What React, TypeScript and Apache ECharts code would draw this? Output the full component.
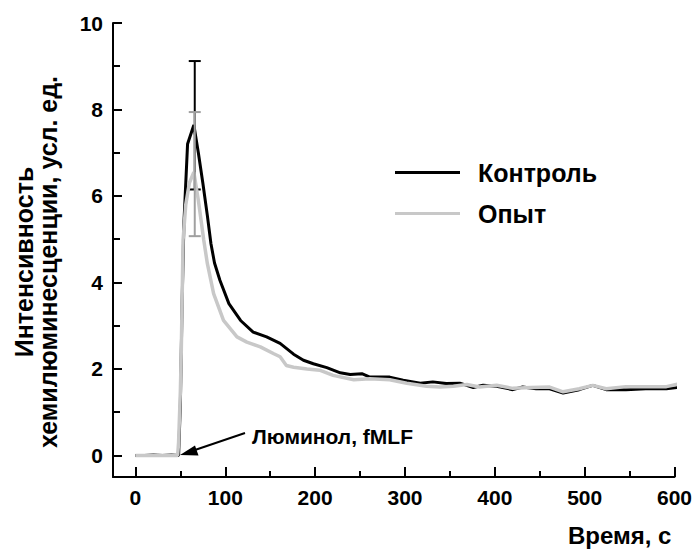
import React, { useEffect, useRef } from "react";
import * as echarts from "echarts";

const FONT = "'Liberation Sans', Arial, sans-serif";

const timeControl = [0, 10, 20, 30, 40, 48, 50, 52, 54, 58, 65, 70, 75, 80, 84, 88, 94, 104, 117, 131, 146, 161, 176, 187, 198, 213, 228, 239, 252, 261, 283, 298, 317, 331, 346, 361, 376, 387, 402, 420, 431, 446, 461, 476, 494, 509, 524, 546, 568, 591, 607];
const control = [0, 0, 0.01, 0, 0.01, 0, 1.2, 3.6, 5.4, 7.2, 7.64, 7.0, 6.3, 5.55, 4.9, 4.45, 4.05, 3.51, 3.12, 2.85, 2.74, 2.59, 2.34, 2.2, 2.12, 2.03, 1.91, 1.87, 1.89, 1.81, 1.81, 1.74, 1.67, 1.7, 1.66, 1.67, 1.57, 1.62, 1.6, 1.52, 1.58, 1.54, 1.54, 1.44, 1.52, 1.62, 1.52, 1.52, 1.54, 1.54, 1.58];

const timeTest = [0, 10, 20, 30, 40, 47, 48, 50, 51, 53, 56, 60, 65, 70, 76, 80, 87, 98, 113, 124, 139, 154, 161, 168, 176, 191, 205, 220, 243, 261, 283, 302, 324, 339, 354, 369, 383, 402, 420, 440, 461, 476, 494, 509, 524, 546, 568, 591, 607];
const test = [0, 0, 0, 0, 0, 0, 0.3, 1.5, 2.4, 4.98, 5.8, 6.3, 6.55, 5.9, 4.98, 4.44, 3.74, 3.12, 2.74, 2.62, 2.51, 2.35, 2.28, 2.08, 2.04, 2.0, 1.97, 1.85, 1.75, 1.77, 1.75, 1.67, 1.6, 1.58, 1.6, 1.64, 1.58, 1.62, 1.55, 1.57, 1.58, 1.47, 1.54, 1.62, 1.54, 1.59, 1.59, 1.59, 1.66];

// error bars: [time, low, high]
const errControl = [66, 6.15, 9.12];
const errTest = [66, 5.07, 7.94];

const xMajorTicks = [0, 100, 200, 300, 400, 500, 600];
const xMinorTicks = [50, 150, 250, 350, 450, 550];
const yMajorTicks = [0, 2, 4, 6, 8, 10];
const yMinorTicks = [1, 3, 5, 7, 9];

const seriesNames = ["Контроль", "Опыт"];
const xName = "Время, с";
const yName = "Интенсивность\nхемилюминесценции, усл. ед.";
const annotation = "Люминол, fMLF";

const BLACK = "#000000";
const GREY = "#c8c8c8";
const GREY_ERR = "#a0a0a0";

function errRender(color: string) {
  return (params: any, api: any) => {
    const x = api.value(0);
    const lo = api.coord([x, api.value(1)]);
    const hi = api.coord([x, api.value(2)]);
    const w = 6;
    const st = { stroke: color, lineWidth: 2 };
    return {
      type: "group",
      children: [
        { type: "line", shape: { x1: lo[0], y1: lo[1], x2: hi[0], y2: hi[1] }, style: st },
        { type: "line", shape: { x1: lo[0] - w, y1: lo[1], x2: lo[0] + w, y2: lo[1] }, style: st },
        { type: "line", shape: { x1: hi[0] - w, y1: hi[1], x2: hi[0] + w, y2: hi[1] }, style: st },
      ],
    };
  };
}

export default function App() {
  const ref = useRef<HTMLDivElement>(null);
  useEffect(() => {
    if (!ref.current) return;
    const chart = echarts.init(ref.current, null, { renderer: "svg" });
    const axisBase = {
      type: "value",
      min: -25,
      max: 600,
    };
    const yBase = { type: "value", min: -0.5, max: 10 };
    chart.setOption({
      animation: false,
      backgroundColor: "#ffffff",
      textStyle: { fontFamily: FONT },
      grid: { left: 113, right: 20, top: 23, bottom: 76, containLabel: false },
      legend: {
        data: seriesNames,
        orient: "vertical",
        left: 390,
        top: 155,
        icon: "rect",
        itemWidth: 65,
        itemHeight: 3,
        itemGap: 16,
        textStyle: { fontFamily: FONT, fontSize: 25, fontWeight: "bold", color: "#000", padding: [0, 0, 0, 13], lineHeight: 25 },
      },
      xAxis: [
        {
          ...axisBase,
          position: "bottom",
          axisLine: { show: true, onZero: false, lineStyle: { color: BLACK, width: 2 } },
          axisTick: { show: true, inside: true, length: 10, lineStyle: { color: BLACK, width: 2 }, customValues: xMajorTicks },
          axisLabel: { show: true, customValues: xMajorTicks, margin: 10, fontFamily: FONT, fontSize: 21, fontWeight: "bold", color: BLACK },
          splitLine: { show: false },
        },
        {
          ...axisBase,
          position: "bottom",
          axisLine: { show: false, onZero: false },
          axisTick: { show: true, inside: true, length: 6, lineStyle: { color: BLACK, width: 2 }, customValues: xMinorTicks },
          axisLabel: { show: false },
          splitLine: { show: false },
        },
      ],
      yAxis: [
        {
          ...yBase,
          position: "left",
          axisLine: { show: true, onZero: false, lineStyle: { color: BLACK, width: 2 } },
          axisTick: { show: true, inside: true, length: 9, lineStyle: { color: BLACK, width: 2 }, customValues: yMajorTicks },
          axisLabel: { show: true, customValues: yMajorTicks, margin: 10, fontFamily: FONT, fontSize: 21, fontWeight: "bold", color: BLACK },
          splitLine: { show: false },
        },
        {
          ...yBase,
          position: "left",
          axisLine: { show: false, onZero: false },
          axisTick: { show: true, inside: true, length: 7, lineStyle: { color: BLACK, width: 2 }, customValues: yMinorTicks },
          axisLabel: { show: false },
          splitLine: { show: false },
        },
      ],
      graphic: [
        {
          type: "text",
          left: 568,
          top: 523,
          style: { text: xName, font: `bold 24px ${FONT}`, fill: BLACK },
        },
        {
          type: "text",
          x: 36,
          y: 262,
          rotation: Math.PI / 2,
          style: { text: yName, font: `bold 25px ${FONT}`, fill: BLACK, align: "center", verticalAlign: "middle", lineHeight: 24 },
        },
        {
          type: "text",
          x: 252,
          y: 436,
          style: { text: annotation, font: `bold 21px ${FONT}`, fill: BLACK, verticalAlign: "middle" },
        },
        {
          type: "line",
          shape: { x1: 245, y1: 433, x2: 192, y2: 451 },
          style: { stroke: BLACK, lineWidth: 2 },
        },
        {
          type: "polygon",
          shape: { points: [[180, 455], [195, 445.5], [198.5, 455.5]] },
          style: { fill: BLACK },
        },
      ],
      series: [
        {
          name: seriesNames[0],
          type: "line",
          data: timeControl.map((t, i) => [t, control[i]]),
          showSymbol: false,
          symbol: "none",
          clip: false,
          color: BLACK,
          lineStyle: { color: BLACK, width: 3 },
          z: 2,
        },
        {
          type: "custom",
          renderItem: errRender(BLACK),
          data: [errControl],
          z: 3,
          silent: true,
        },
        {
          name: seriesNames[1],
          type: "line",
          data: timeTest.map((t, i) => [t, test[i]]),
          showSymbol: false,
          symbol: "none",
          clip: false,
          color: GREY,
          lineStyle: { color: GREY, width: 3.5 },
          z: 4,
        },
        {
          type: "custom",
          renderItem: errRender(GREY_ERR),
          data: [errTest],
          z: 5,
          silent: true,
        },
      ],
    });
    return () => chart.dispose();
  }, []);
  return <div ref={ref} style={{ position: "fixed", left: 0, top: 0, width: 695, height: 553 }} />;
}
